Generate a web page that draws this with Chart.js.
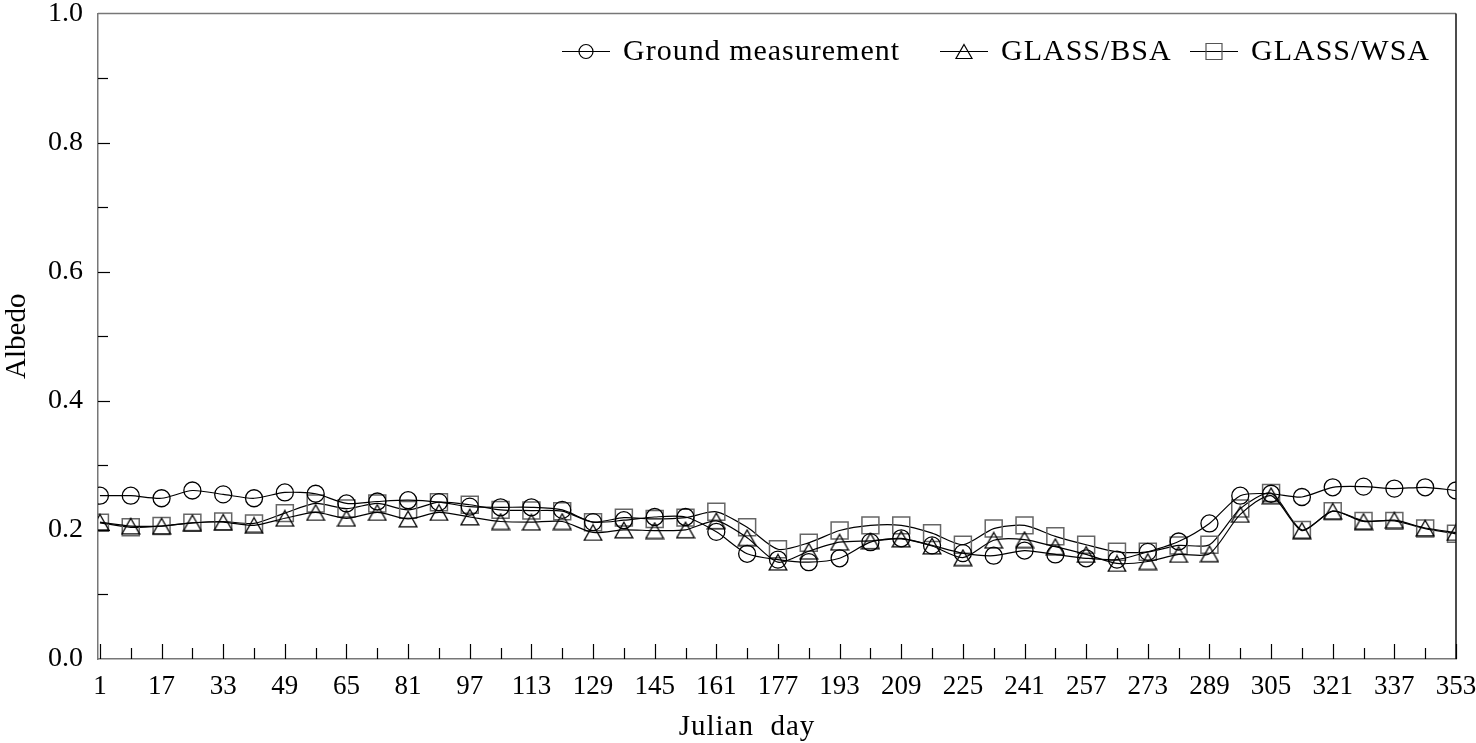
<!DOCTYPE html>
<html>
<head>
<meta charset="utf-8">
<script src="https://cdn.jsdelivr.net/npm/chart.js@4"></script>
<style>
body { margin: 0; background: #fff; }
#wrap { width: 1476px; height: 743px; }
</style>
</head>
<body>
<div id="wrap"><canvas id="chart"></canvas></div>
<script>
// Julian days of the 8-day composites
const days = [1, 9, 17, 25, 33, 41, 49, 57, 65, 73, 81, 89, 97, 105, 113, 121, 129, 137, 145, 153, 161, 169, 177,
    185, 193, 201, 209, 217, 225, 233, 241, 249, 257, 265, 273, 281, 289, 297, 305, 313, 321, 329, 337, 345, 353];

const groundMeasurement = [0.253, 0.253, 0.249, 0.261, 0.255, 0.249, 0.258, 0.256, 0.241, 0.244, 0.246, 0.243,
    0.236, 0.235, 0.235, 0.231, 0.212, 0.215, 0.220, 0.220, 0.197, 0.163, 0.154, 0.150, 0.156, 0.181, 0.187,
    0.176, 0.164, 0.160, 0.168, 0.162, 0.156, 0.154, 0.166, 0.182, 0.210, 0.253, 0.256, 0.251, 0.266, 0.267,
    0.264, 0.266, 0.261];

const glassBSA = [0.212, 0.206, 0.206, 0.211, 0.212, 0.207, 0.218, 0.227, 0.218, 0.227, 0.217, 0.227,
    0.220, 0.213, 0.212, 0.213, 0.196, 0.200, 0.199, 0.200, 0.214, 0.188, 0.150, 0.167, 0.181, 0.183, 0.186,
    0.175, 0.157, 0.184, 0.185, 0.174, 0.162, 0.148, 0.151, 0.162, 0.163, 0.224, 0.253, 0.199, 0.229, 0.213,
    0.215, 0.203, 0.196];

const glassWSA = [0.211, 0.204, 0.206, 0.211, 0.213, 0.210, 0.226, 0.241, 0.233, 0.241, 0.231, 0.243,
    0.239, 0.231, 0.230, 0.229, 0.212, 0.219, 0.217, 0.219, 0.228, 0.204, 0.170, 0.180, 0.199, 0.207, 0.207,
    0.195, 0.177, 0.202, 0.207, 0.190, 0.177, 0.166, 0.166, 0.176, 0.177, 0.233, 0.257, 0.200, 0.229, 0.214,
    0.214, 0.202, 0.194];

const xTickLabels = [1, 17, 33, 49, 65, 81, 97, 113, 129, 145, 161, 177, 193, 209, 225, 241, 257, 273, 289, 305, 321, 337, 353];
const seriesNames = ['Ground measurement', 'GLASS/BSA', 'GLASS/WSA'];
const xTitle = 'Julian  day';

const FONT = 'Liberation Serif';

// triangle marker centred on its bounding box
function triangleImage(w, h, color, lw) {
    const c = document.createElement('canvas');
    c.width = w; c.height = h;
    const g = c.getContext('2d');
    g.strokeStyle = color;
    g.lineWidth = lw;
    g.beginPath();
    g.moveTo(w / 2, lw);
    g.lineTo(w - lw / 2 - 0.5, h - lw / 2 - 0.5);
    g.lineTo(lw / 2 + 0.5, h - lw / 2 - 0.5);
    g.closePath();
    g.stroke();
    return c;
}
const triMarker = triangleImage(20, 18, '#000', 1.3);

function points(vals) {
    return days.map((d, i) => ({x: d, y: vals[i]}));
}

function drawMarker(ctx, kind, x, y) {
    ctx.beginPath();
    if (kind === 'circle') {
        ctx.strokeStyle = '#000';
        ctx.arc(x, y, 7, 0, Math.PI * 2);
    } else if (kind === 'triangle') {
        ctx.strokeStyle = '#000';
        ctx.moveTo(x, y - 7);
        ctx.lineTo(x + 8, y + 7);
        ctx.lineTo(x - 8, y + 7);
        ctx.closePath();
    } else {
        ctx.strokeStyle = '#555';
        ctx.rect(x - 8, y - 8, 16, 16);
    }
    ctx.stroke();
}

const framePlugin = {
    id: 'framePlugin',
    afterDraw(chart) {
        const ctx = chart.ctx, a = chart.chartArea;
        const xs = chart.scales.x, ys = chart.scales.y;
        ctx.save();
        ctx.lineWidth = 1.5;
        ctx.strokeStyle = '#777';
        ctx.beginPath(); ctx.moveTo(a.left, a.top); ctx.lineTo(a.right, a.top); ctx.stroke();
        ctx.strokeStyle = '#111';
        ctx.beginPath(); ctx.moveTo(a.right, a.top); ctx.lineTo(a.right, a.bottom); ctx.stroke();

        // inner ticks
        ctx.strokeStyle = '#000';
        ctx.lineWidth = 1.2;
        days.forEach(d => {
            const px = Math.round(xs.getPixelForValue(d)) + 0.5;
            const len = xTickLabels.includes(d) ? 15 : 11;
            ctx.beginPath(); ctx.moveTo(px, a.bottom); ctx.lineTo(px, a.bottom - len); ctx.stroke();
        });
        for (let i = 1; i < 10; i++) {
            const py = Math.round(ys.getPixelForValue(i / 10)) + 0.5;
            const len = i % 2 === 0 ? 12 : 10;
            ctx.beginPath(); ctx.moveTo(a.left, py); ctx.lineTo(a.left + len, py); ctx.stroke();
        }

        // x axis title, sits a little left of centre in the original
        ctx.fillStyle = '#000';
        ctx.font = '29px "' + FONT + '"';
        ctx.textAlign = 'center';
        ctx.textBaseline = 'middle';
        ctx.letterSpacing = '1px';
        ctx.fillText(xTitle, (a.left + a.right) / 2 - 30, 727);

        // legend
        const kinds = ['circle', 'triangle', 'rect'];
        const starts = [a.right - 894, a.right - 516, a.right - 266];
        const ly = 51.5;
        ctx.font = '30px "' + FONT + '"';
        ctx.textAlign = 'left';
        seriesNames.forEach((name, i) => {
            const x0 = starts[i];
            ctx.strokeStyle = '#000';
            ctx.lineWidth = 1.2;
            ctx.beginPath(); ctx.moveTo(x0, ly); ctx.lineTo(x0 + 48, ly); ctx.stroke();
            drawMarker(ctx, kinds[i], x0 + 24, ly);
            ctx.fillText(name, x0 + 61, ly + 1);
        });
        ctx.letterSpacing = '0px';
        ctx.restore();
    }
};

const data = {
    datasets: [
        {
            label: seriesNames[0],
            data: points(groundMeasurement),
            borderColor: '#000',
            borderWidth: 1.2,
            tension: 0.25,
            pointStyle: 'circle',
            pointRadius: 8.5,
            pointBorderColor: '#000',
            pointBackgroundColor: 'rgba(0,0,0,0)',
            pointBorderWidth: 1.3,
        },
        {
            label: seriesNames[1],
            data: points(glassBSA),
            borderColor: '#000',
            borderWidth: 1.2,
            tension: 0.25,
            pointStyle: triMarker,
            pointRadius: 10,
        },
        {
            label: seriesNames[2],
            data: points(glassWSA),
            borderColor: '#000',
            borderWidth: 1.2,
            tension: 0.25,
            pointStyle: 'rect',
            pointRadius: 12,
            pointBorderColor: '#666',
            pointBackgroundColor: 'rgba(0,0,0,0)',
            pointBorderWidth: 1.5,
        },
    ]
};

const config = {
    type: 'line',
    data: data,
    options: {
        responsive: true,
        maintainAspectRatio: false,
        animation: false,
        layout: {padding: {top: 12, right: 20, bottom: 0, left: 0}},
        plugins: {
            legend: {display: false},
            tooltip: {enabled: false},
        },
        scales: {
            x: {
                type: 'linear',
                min: 0.5,
                max: 353,
                afterBuildTicks: (s) => { s.ticks = xTickLabels.map(v => ({value: v})); },
                afterFit: (s) => { s.height = 84; s.paddingLeft = 0; s.paddingRight = 0; },
                grid: {display: false, drawTicks: false},
                border: {display: true, color: '#777', width: 1.5},
                ticks: {
                    autoSkip: false,
                    maxRotation: 0,
                    padding: 12,
                    color: '#000',
                    font: {family: FONT, size: 27},
                    callback: (v) => String(v),
                },
                title: {display: false},
            },
            y: {
                min: 0,
                max: 1,
                afterFit: (s) => { s.width = 98; s.paddingTop = 0; s.paddingBottom = 0; },
                grid: {display: false, drawTicks: false},
                border: {display: true, color: '#777', width: 1.5},
                ticks: {
                    stepSize: 0.2,
                    padding: 15,
                    color: '#000',
                    font: {family: FONT, size: 28},
                    callback: (v) => v.toFixed(1),
                },
                title: {
                    display: true,
                    text: 'Albedo',
                    color: '#000',
                    font: {family: FONT, size: 29},
                    padding: {top: 0, bottom: 0},
                },
            },
        },
    },
    plugins: [framePlugin],
};

new Chart(document.getElementById('chart'), config);
</script>
</body>
</html>
